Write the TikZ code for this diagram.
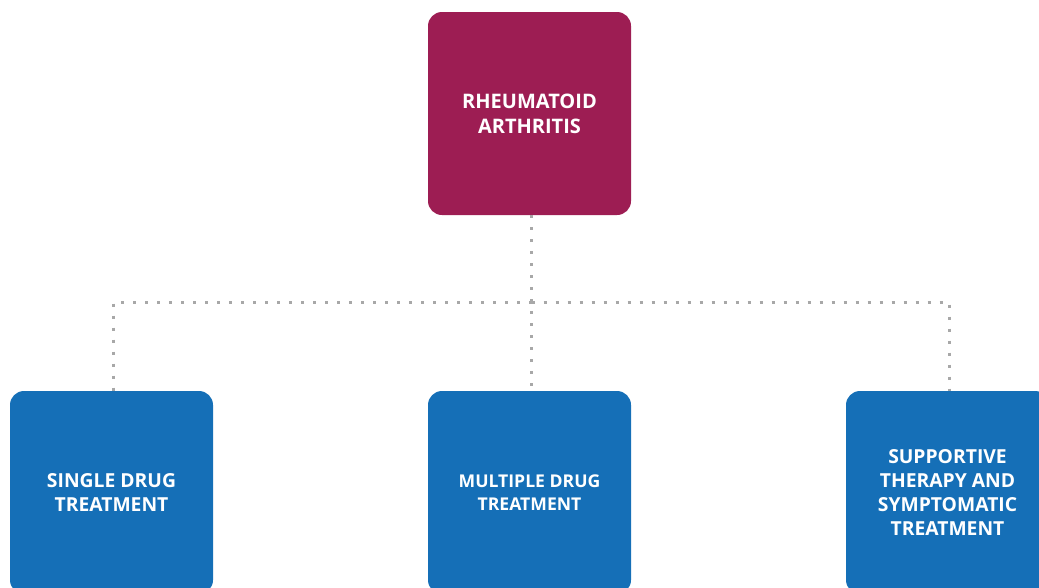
\documentclass[tikz,border=0pt]{standalone}
\usepackage{fontspec}
\setmainfont{Open Sans}
\definecolor{raMag}{HTML}{9D1D53}
\definecolor{raBlue}{HTML}{156FB7}
\definecolor{dotGray}{HTML}{A8A8A8}
\begin{document}
\begin{tikzpicture}[x=1pt,y=-1pt,
  boxbase/.style={rounded corners=14pt, minimum width=203pt, minimum height=203pt, inner sep=0pt, align=center, text=white, font=\bfseries\fontsize{19.3}{24}\selectfont},
  topbox/.style={boxbase, fill=raMag, font=\bfseries\fontsize{20}{25}\selectfont},
  botbox/.style={boxbase, fill=raBlue},
  smallbox/.style={botbox, font=\bfseries\fontsize{17.6}{23}\selectfont},
  link/.style={draw=dotGray, line width=3pt, dash pattern=on 3pt off 9pt}]
\useasboundingbox (0,0) rectangle (1039,587);
\clip (0,0) rectangle (1039,587);
\node[topbox] (ra) at (529.5,113.5) {RHEUMATOID\\ARTHRITIS};
\node[botbox] (single) at (111.5,492.5) {SINGLE DRUG\\TREATMENT};
\node[smallbox] (multi) at (529.5,492.5) {MULTIPLE DRUG\\TREATMENT};
\node[botbox] (supp) at (947.5,492.5) {SUPPORTIVE\\THERAPY AND\\SYMPTOMATIC\\TREATMENT};
\coordinate (hub) at (531.5,302);
\coordinate (lc) at (113,302);
\coordinate (rc) at (949,302);
\draw[link] (ra.south -| hub) -- (hub) -- (multi.north -| hub);
\draw[link] (hub) -- (lc) -- (single.north -| lc);
\draw[link] (hub) -- (rc) -- (supp.north -| rc);
\end{tikzpicture}
\end{document}
